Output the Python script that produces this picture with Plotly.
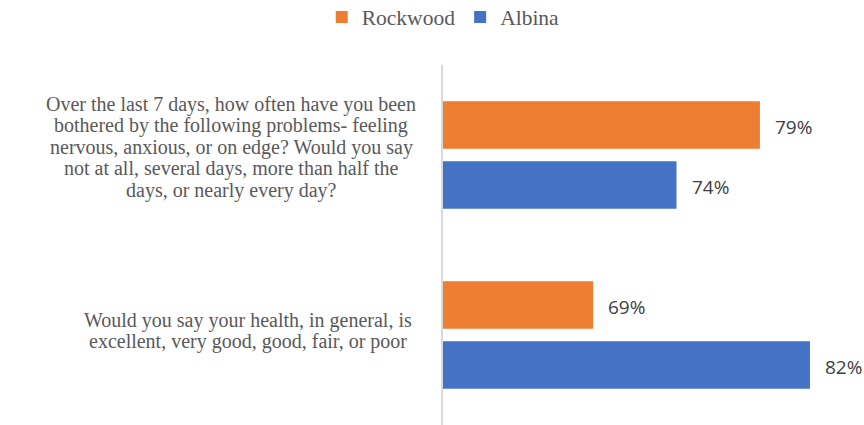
import plotly.graph_objects as go

categories = ["q_anxiety", "q_health"]
category_lines = [
    ["Over the last 7 days, how often have you been",
     "bothered by the following problems- feeling",
     "nervous, anxious, or on edge? Would you say",
     "not at all, several days, more than half the",
     "days, or nearly every day?"],
    ["Would you say your health, in general, is",
     "excellent, very good, good, fair, or poor"],
]
series_names = ["Rockwood", "Albina"]
rockwood = [79, 69]
albina = [74, 82]
series_values = [rockwood, albina]
colors = ["#ED7D31", "#4472C4"]

fig = go.Figure()
for name, vals, col in zip(series_names, series_values, colors):
    fig.add_trace(go.Bar(
        name=name, y=categories, x=vals, orientation="h",
        marker=dict(color=col, line=dict(width=0)),
        hoverinfo="skip",
    ))

annotations = []
# data labels
for si, vals in enumerate(series_values):
    for cat, v in zip(categories, vals):
        annotations.append(dict(
            x=v, y=cat, xref="x", yref="y", text=f"{v}%", showarrow=False,
            xanchor="left", yanchor="middle", xshift=13,
            yshift=28 if si == 0 else -32,
            font=dict(family="Open Sans", size=19, color="#404040"),
        ))

# category labels, one annotation per line
label_centers = [-212, -195]
block_offsets = [8, 4]
line_h = 21.5
for cat, lines, cx, off in zip(categories, category_lines, label_centers, block_offsets):
    n = len(lines)
    for i, ln in enumerate(lines):
        annotations.append(dict(
            x=0, y=cat, xref="paper", yref="y", text=ln, showarrow=False,
            xanchor="center", yanchor="middle", xshift=cx,
            yshift=((n - 1) / 2 - i) * line_h + off,
            font=dict(family="Liberation Serif", size=20, color="#595959"),
        ))

fig.update_layout(
    width=864, height=425,
    margin=dict(l=443, r=4, t=65, b=0, autoexpand=False),
    paper_bgcolor="white", plot_bgcolor="white",
    barmode="group", bargap=0.333, bargroupgap=0.207,
    showlegend=True,
    legend=dict(orientation="h", xref="container", yref="container",
                x=0.513, xanchor="center", y=0.96, yanchor="middle",
                traceorder="normal",
                font=dict(family="Liberation Serif", size=21.5, color="#595959"),
                itemclick=False, itemdoubleclick=False),
    xaxis=dict(range=[60, 85], showticklabels=False, showgrid=False,
               zeroline=False, showline=False, fixedrange=True,
               automargin=False),
    yaxis=dict(autorange="reversed", showticklabels=False, showgrid=False,
               zeroline=False, showline=True, linecolor="#D9D9D9",
               linewidth=1.5, ticks="", fixedrange=True, automargin=False),
    annotations=annotations,
)

fig.write_html("out.html", config={"displayModeBar": False},
               post_script="document.body.style.margin='0';document.body.style.overflow='hidden';")
